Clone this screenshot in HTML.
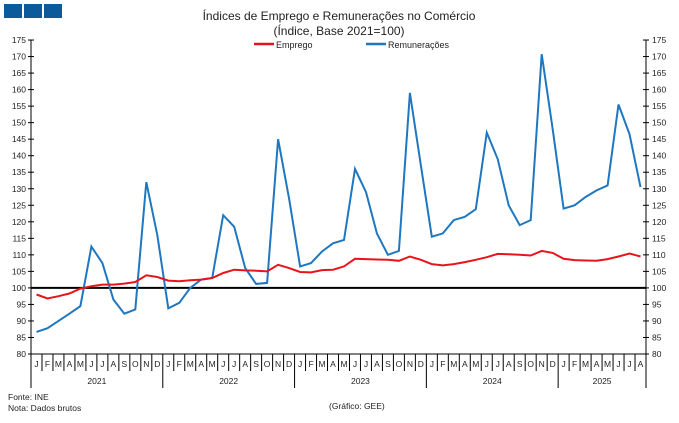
<!DOCTYPE html>
<html><head><meta charset="utf-8"><style>
body{margin:0;background:#fff;width:679px;height:418px;overflow:hidden;font-family:"Liberation Sans",sans-serif}
svg text{font-family:"Liberation Sans",sans-serif;fill:#222}
</style></head><body>
<svg id="s" width="679" height="418" xmlns="http://www.w3.org/2000/svg"></svg>
<script>
const s=document.getElementById('s');let h='';
h+='<rect x="4" y="4" width="18" height="14" fill="#0a5a9c"/><rect x="24" y="4" width="18" height="14" fill="#0a5a9c"/><rect x="44" y="4" width="18" height="14" fill="#0a5a9c"/>';
h+='<text x="339" y="20" font-size="12" text-anchor="middle">Índices de Emprego e Remunerações no Comércio</text>';
h+='<text x="339" y="35" font-size="12" text-anchor="middle">(Índice, Base 2021=100)</text>';
h+='<line x1="254" y1="44" x2="274" y2="44" stroke="#e8141c" stroke-width="2.5"/><text x="276" y="48" font-size="9">Emprego</text>';
h+='<line x1="366" y1="44" x2="386" y2="44" stroke="#1f77c0" stroke-width="2.5"/><text x="388" y="48" font-size="9">Remunerações</text>';
const L=31,R=646,n=56,dx=(R-L)/n;const Y=v=>354-(v-80)*3.305;
h+=`<line x1="${L}" y1="40" x2="${L}" y2="354" stroke="#000"/><line x1="${R}" y1="40" x2="${R}" y2="354" stroke="#000"/>`;
for(let v=80;v<=175;v+=5){const y=Y(v);h+=`<line x1="${L-3}" y1="${y}" x2="${L+3}" y2="${y}" stroke="#000"/><line x1="${R-3}" y1="${y}" x2="${R+3}" y2="${y}" stroke="#000"/><text x="${L-5}" y="${y+3}" font-size="8.5" text-anchor="end">${v}</text><text x="${R+6}" y="${y+3}" font-size="8.5">${v}</text>`;}
h+=`<line x1="${L}" y1="354" x2="${R}" y2="354" stroke="#000"/>`;
const m='JFMAMJJASOND';
for(let i=0;i<n;i++){const x=L+i*dx;h+=`<line x1="${x}" y1="354" x2="${x}" y2="${i%12==0?388:371}" stroke="#000"/><text x="${x+dx/2}" y="367" font-size="8.5" text-anchor="middle">${m[i%12]}</text>`;}
h+=`<line x1="${R}" y1="354" x2="${R}" y2="388" stroke="#000"/>`;
['2021','2022','2023','2024','2025'].forEach((t,k)=>{const a=L+k*12*dx,b=Math.min(R,a+12*dx);h+=`<text x="${(a+b)/2}" y="384" font-size="8.5" text-anchor="middle">${t}</text>`;});
h+=`<line x1="${L}" y1="${Y(100)}" x2="${R}" y2="${Y(100)}" stroke="#000" stroke-width="2"/>`;
const e=[98,96.8,97.5,98.3,99.8,100.5,101,101,101.3,101.8,103.8,103.3,102.2,102,102.3,102.5,103,104.5,105.5,105.3,105.2,105,107,106,104.8,104.7,105.4,105.5,106.5,108.8,108.7,108.6,108.5,108.2,109.5,108.5,107.2,106.8,107.2,107.8,108.5,109.3,110.3,110.2,110,109.8,111.2,110.6,108.8,108.4,108.3,108.2,108.7,109.5,110.4,109.5];
const r=[86.7,87.8,90,92.2,94.5,112.5,107.5,96.5,92.2,93.5,132,116,93.8,95.5,100,102.5,103,122,118.5,106,101.2,101.5,145,127,106.5,107.5,111,113.5,114.5,136,129,116.5,110,111.2,159,137,115.5,116.5,120.5,121.5,123.8,147,139,125,119,120.5,170.7,148,124,125,127.5,129.5,131,155.5,146.5,130.5];
const p=a=>a.map((v,i)=>`${(L+(i+0.5)*dx).toFixed(1)},${Y(v).toFixed(1)}`).join(' ');
h+=`<polyline points="${p(r)}" fill="none" stroke="#1f77c0" stroke-width="2"/>`;
h+=`<polyline points="${p(e)}" fill="none" stroke="#e8141c" stroke-width="2"/>`;
h+='<text x="8" y="400" font-size="8.5">Fonte: INE</text><text x="8" y="411" font-size="8.5">Nota: Dados brutos</text><text x="329" y="409" font-size="8.5">(Gráfico: GEE)</text>';
s.innerHTML=h;
</script></body></html>
